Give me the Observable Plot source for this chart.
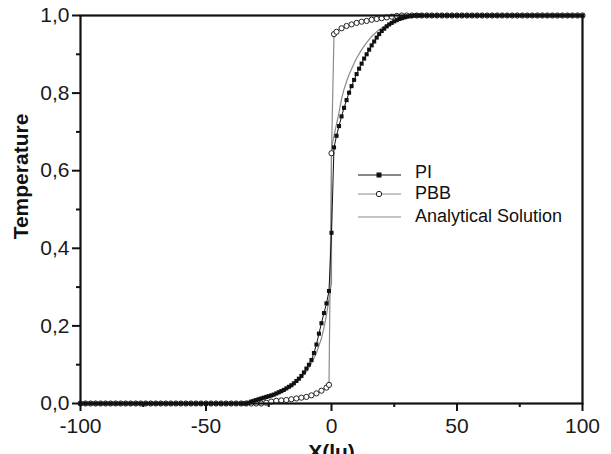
<!DOCTYPE html>
<html>
<head>
<meta charset="utf-8">
<script src="https://cdn.jsdelivr.net/npm/d3@7"></script>
<script src="https://cdn.jsdelivr.net/npm/@observablehq/plot@0.6"></script>
<style>
  html, body { margin: 0; padding: 0; background: white; overflow: hidden; }
  #chart { width: 611px; height: 454px; }
</style>
</head>
<body>
<div id="chart"></div>
<script>
// ---- Data ----
const piX = [-100,-98,-96,-94,-92,-90,-88,-86,-84,-82,-80,-78,-76,-74,-72,-70,-68,-66,-64,-62,-60,-58,-56,-54,-52,-50,-48,-46,-44,-42,-40,-38,-36,
  -35,-34,-33,-32,-31,-30,-29,-28,-27,-26,-25,-24,-23,-22,-21,-20,-19,-18,-17,-16,-15,-14,-13,-12,-11,-10,-9,-8,-7,-6,-5,-4,-3,-2,-1,0,
  1,2,3,4,5,6,7,8,9,10,11,12,13,14,15,16,17,18,19,20,21,22,23,24,25,26,27,28,29,30,31,32,33,34,35,
  36,38,40,42,44,46,48,50,52,54,56,58,60,62,64,66,68,70,72,74,76,78,80,82,84,86,88,90,92,94,96,98,100];
const piT = [0,0,0,0,0,0,0,0,0,0,0,0,0,0,0,0,0,0,0,0,0,0,0,0,0,0,0,0,0,0,0,0,0,
  0,0,0.002,0.005,0.007,0.009,0.011,0.013,0.015,0.017,0.019,0.021,0.023,0.026,0.029,0.032,0.035,0.039,0.043,0.047,0.052,0.058,0.064,0.071,0.08,0.09,0.1,0.112,0.13,0.152,0.18,0.207,0.233,0.258,0.29,0.44,
  0.66,0.69,0.715,0.74,0.762,0.782,0.801,0.818,0.834,0.849,0.863,0.876,0.889,0.9,0.912,0.923,0.933,0.943,0.952,0.96,0.966,0.972,0.977,0.981,0.985,0.988,0.991,0.993,0.995,0.997,0.998,0.999,1,1,1,
  1,1,1,1,1,1,1,1,1,1,1,1,1,1,1,1,1,1,1,1,1,1,1,1,1,1,1,1,1,1,1,1,1];

const pbbX = [-100,-98,-96,-94,-92,-90,-88,-86,-84,-82,-80,-78,-76,-74,-72,-70,-68,-66,-64,-62,-60,-58,-56,-54,-52,-50,-48,-46,-44,-42,-40,-38,-36,-34,-32,-30,-28,
  -26,-24,-22,-20,-18,-16,-14,-12,-10,-8,-6,-4,-2,
  -1,0,1,
  2,4,6,8,10,12,14,16,18,20,22,24,26,
  28,30,32,34,36,38,40,42,44,46,48,50,52,54,56,58,60,62,64,66,68,70,72,74,76,78,80,82,84,86,88,90,92,94,96,98,100];
const pbbT = [0,0,0,0,0,0,0,0,0,0,0,0,0,0,0,0,0,0,0,0,0,0,0,0,0,0,0,0,0,0,0,0,0,0,0,0,0,
  0.002,0.005,0.007,0.008,0.009,0.011,0.013,0.015,0.017,0.021,0.026,0.033,0.041,
  0.048,0.645,0.952,
  0.958,0.967,0.973,0.977,0.981,0.984,0.986,0.989,0.991,0.993,0.995,0.997,0.999,
  1,1,1,1,1,1,1,1,1,1,1,1,1,1,1,1,1,1,1,1,1,1,1,1,1,1,1,1,1,1,1,1,1,1,1,1,1];

const anaX = [-100,-40,-36,-32,-28,-24,-20,-16,-12,-10,-8,-6,-4,-3,-2,-1,0,0,1,2,3,4,5,6,7,8,9,10,12,14,16,18,20,22,24,26,28,30,33,36,40,100];
const anaT = [0,0,0.001,0.004,0.009,0.016,0.027,0.043,0.066,0.082,0.103,0.13,0.168,0.195,0.228,0.27,0.31,0.66,0.69,0.72,0.75,0.785,0.81,0.83,0.848,0.862,0.877,0.89,0.912,0.93,0.946,0.958,0.968,0.976,0.983,0.988,0.992,0.995,0.998,1,1,1];

const xTicks = [-100,-50,0,50,100];
const xMinorTicks = [-75,-25,25,75];
const yTicks = [0,0.2,0.4,0.6,0.8,1.0];
const yMinorTicks = [0.1,0.3,0.5,0.7,0.9];
const seriesNames = ["PI","PBB","Analytical Solution"];
const xLabel = "X(lu)";
const yLabel = "Temperature";

// ---- Build tables ----
const pi = piX.map((x, i) => ({x, t: piT[i]}));
const pbb = pbbX.map((x, i) => ({x, t: pbbT[i]}));
const ana = anaX.map((x, i) => ({x, t: anaT[i]}));

const FONT = "'Liberation Sans', Arial, Helvetica, sans-serif";
const commaFmt = d => d.toFixed(1).replace(".", ",");

const chart = Plot.plot({
  width: 611,
  height: 454,
  marginLeft: 80,
  marginRight: 29,
  marginTop: 15,
  marginBottom: 51,
  style: {fontFamily: FONT, fontSize: "21px", color: "#1a1a1a", background: "white", overflow: "hidden"},
  x: {domain: [-100, 100]},
  y: {domain: [0, 1]},
  marks: [
    // analytical solution
    Plot.line(ana, {x: "x", y: "t", stroke: "#8a8a8a", strokeWidth: 1.2}),
    // PBB
    Plot.line(pbb, {x: "x", y: "t", stroke: "#8a8a8a", strokeWidth: 1.2}),
    Plot.dot(pbb, {x: "x", y: "t", symbol: "circle", r: 2.6, fill: "white", stroke: "#222", strokeWidth: 1}),
    // PI
    Plot.line(pi, {x: "x", y: "t", stroke: "#111", strokeWidth: 1}),
    Plot.dot(pi, {x: "x", y: "t", symbol: "square", r: 2.3, fill: "#111", stroke: "none"}),
    // axes
    Plot.axisX({ticks: xTicks, tickSize: 8, tickPadding: 7, tickFormat: d => String(d), label: null, fontSize: 21, stroke: "#111", strokeWidth: 2}),
    Plot.axisX({ticks: xMinorTicks, tickSize: 4, tickFormat: () => "", label: null, stroke: "#111", strokeWidth: 2}),
    Plot.axisY({ticks: yTicks, tickSize: 8, tickPadding: 3, tickFormat: commaFmt, label: null, fontSize: 21, stroke: "#111", strokeWidth: 2}),
    Plot.axisY({ticks: yMinorTicks, tickSize: 4, tickFormat: () => "", label: null, stroke: "#111", strokeWidth: 2}),
    Plot.frame({stroke: "#111", strokeWidth: 2.2}),
    // axis titles
    Plot.text([yLabel], {frameAnchor: "left", textAnchor: "middle", lineAnchor: "middle", dx: -59, dy: -33, rotate: -90, fontWeight: "bold", fontSize: 21, fill: "#111"}),
    Plot.text([xLabel], {frameAnchor: "bottom", textAnchor: "middle", lineAnchor: "top", dy: 41, fontWeight: "bold", fontSize: 21, fill: "#111"})
  ]
});

document.getElementById("chart").appendChild(chart);

// ---- Legend (inside the plot area) ----
const svg = d3.select(chart.tagName.toLowerCase() === "svg" ? chart : chart.querySelector("svg"));
const legend = svg.append("g").attr("font-family", FONT).attr("font-size", 18).attr("fill", "#111").attr("text-anchor", "start");
const legendRows = [
  {name: seriesNames[0], ly: 175, ty: 178, stroke: "#111", marker: "square"},
  {name: seriesNames[1], ly: 194, ty: 199, stroke: "#8a8a8a", marker: "circle"},
  {name: seriesNames[2], ly: 217, ty: 222, stroke: "#8a8a8a", marker: null}
];
legendRows.forEach(r => {
  legend.append("line").attr("x1", 358).attr("x2", 401).attr("y1", r.ly).attr("y2", r.ly)
    .attr("stroke", r.stroke).attr("stroke-width", 1.2);
  if (r.marker === "square") {
    legend.append("rect").attr("x", 376.5).attr("y", r.ly - 2.5).attr("width", 5).attr("height", 5).attr("fill", "#111");
  } else if (r.marker === "circle") {
    legend.append("circle").attr("cx", 379).attr("cy", r.ly).attr("r", 2.7).attr("fill", "white").attr("stroke", "#222");
  }
  legend.append("text").attr("x", 415).attr("y", r.ty).attr("text-anchor", "start").text(r.name);
});
</script>
</body>
</html>
